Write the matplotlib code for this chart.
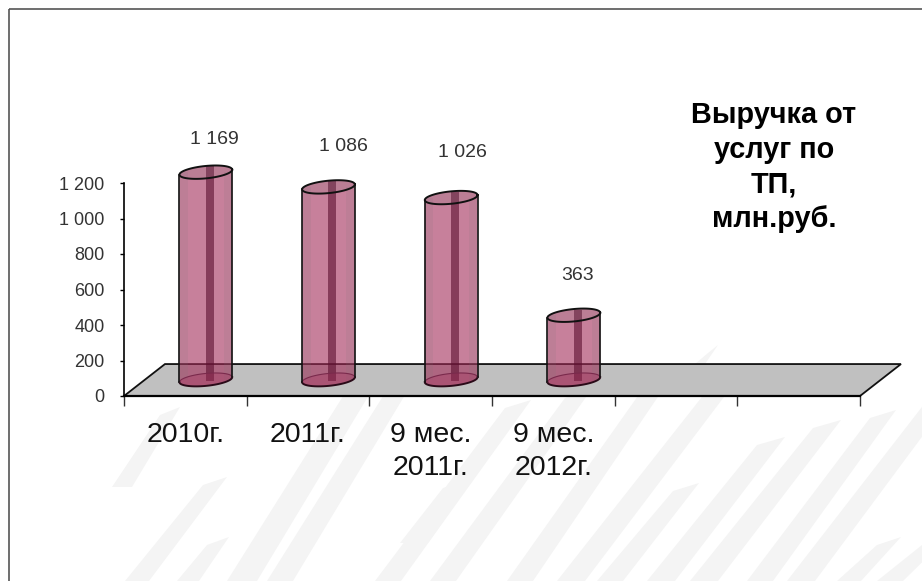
import numpy as np
import matplotlib
matplotlib.use('Agg')
import matplotlib.pyplot as plt
from matplotlib.patches import Polygon, Rectangle

# данные с графика
categories = ['2010г.', '2011г.', '9 мес.\n2011г.', '9 мес.\n2012г.', '', '']
values = [1169, 1086, 1026, 363]
value_labels = ['1 169', '1 086', '1 026', '363']
y_ticks = [0, 200, 400, 600, 800, 1000, 1200]
y_tick_labels = ['0', '200', '400', '600', '800', '1 000', '1 200']
title = 'Выручка от\nуслуг по\nТП,\nмлн.руб.'

# сдвиг подписей значений относительно верха цилиндра, в пикселях
label_dx = [9, 15, 11, 4]
label_dy = [33, 40, 45, 40]

W, H = 922, 581
plt.rcParams['font.family'] = ['Liberation Sans', 'DejaVu Sans']

fig = plt.figure(figsize=(W / 100, H / 100), dpi=100)

# фон: рамка и бледные косые полосы (x верх, y верх, x низ, y низ, ширина)
bg = fig.add_axes([0, 0, 1, 1], zorder=0)
bg.set_xlim(0, W)
bg.set_ylim(H, 0)
bg.axis('off')
stripes = [(160, 407, 112, 487, 20), (203, 477, 125, 581, 24), (207, 537, 177, 581, 22),
           (345, 385, 227, 581, 30), (385, 385, 267, 581, 26), (443, 480, 400, 543, 28),
           (505, 400, 375, 581, 26), (565, 390, 430, 581, 26), (640, 385, 507, 581, 26),
           (705, 385, 557, 581, 28), (673, 483, 597, 581, 26), (757, 437, 647, 581, 28),
           (813, 420, 690, 581, 28), (870, 410, 747, 581, 26), (925, 395, 787, 581, 28),
           (877, 537, 837, 581, 24), (922, 537, 877, 581, 26), (708, 345, 695, 364, 10)]
for x_top, y_top, x_bot, y_bot, w in stripes:
    bg.add_patch(Polygon([(x_bot, y_bot), (x_bot + w, y_bot), (x_top + w, y_top), (x_top, y_top + 8)],
                         color='#f4f4f4', lw=0))
bg.add_patch(Rectangle((8.5, 8.5), 930, 600, fill=False, ec='#555555', lw=1.2))

# оси в пикселях исходной картинки
left, right, top, bottom = 124, 860, 183, 396
ax = fig.add_axes([left / W, 1 - bottom / H, (right - left) / W, (bottom - top) / H], zorder=1)
ax.patch.set_alpha(0)
ax.set_xlim(0, 6)
ax.set_ylim(0, 1200)

for s in ['top', 'right']:
    ax.spines[s].set_visible(False)
ax.spines['left'].set_linewidth(1.2)
ax.spines['bottom'].set_linewidth(1.6)

ax.set_yticks(y_ticks)
ax.set_yticklabels(y_tick_labels, fontsize=13, color='#333333')
ax.tick_params(axis='y', length=3, width=1, pad=11)
ax.set_xticks(range(7))
ax.set_xticklabels([])
ax.tick_params(axis='x', length=7, width=1, color='#333333')
ax.set_xticks(np.arange(6) + 0.5, minor=True)
ax.set_xticklabels(categories, minor=True, fontsize=20.5, color='#111111', linespacing=1.35)
ax.tick_params(axis='x', which='minor', length=0, pad=19)

# пол диаграммы
depth_x, depth_y = 0.334, 180
ax.add_patch(Polygon([(0, 0), (6, 0), (6 + depth_x, depth_y), (depth_x, depth_y)], closed=True,
                     fc='#c0c0c0', ec='#111111', lw=1.3, clip_on=False, zorder=1))

# цилиндры
half_w = 0.215
half_h = 35
tilt = 14
base = 92
px_x = 6 / (right - left)
px_y = 1200 / (bottom - top)
t = np.linspace(0, 2 * np.pi, 101)


def ellipse(cx, cy):
    return cx + half_w * np.cos(t), cy + half_h * np.sin(t) + tilt * np.cos(t)


for i, v in enumerate(values):
    cx = i + 0.5 + depth_x / 2
    cy = base + v
    bx, by = ellipse(cx, base)
    tx, ty = ellipse(cx, cy)
    # тело цилиндра: передняя дуга снизу, задняя дуга сверху
    xs = np.r_[bx[50:], tx[:51]]
    ys = np.r_[by[50:], ty[:51]]
    ax.fill(xs, ys, color='#a32b58', alpha=0.6, lw=0, zorder=3, clip_on=False)
    # сероватые края
    for x0 in [cx - half_w, cx + half_w - 0.07]:
        ax.fill([x0, x0 + 0.07, x0 + 0.07, x0], [base, base, cy, cy], color='#777777', alpha=0.12,
                lw=0, zorder=3, clip_on=False)
    # тёмная полоса по центру
    ax.fill([cx, cx + 0.065, cx + 0.065, cx], [base - 5, base - 5, cy + 32, cy + 32], color='#5c0f2f',
            alpha=0.6, lw=0, zorder=3, clip_on=False)
    ax.fill(bx, by, color='#a32b58', alpha=0.3, lw=0, zorder=3, clip_on=False)
    ax.fill(tx, ty, color='#777777', alpha=0.15, lw=0, zorder=3, clip_on=False)
    # контуры
    ax.plot(bx[50:], by[50:], color='#2a0a18', lw=1.4, zorder=4, clip_on=False)
    ax.plot(bx[:51], by[:51], color='#7a2a4c', lw=0.8, zorder=4, clip_on=False)
    ax.plot(tx, ty, color='#111111', lw=1.4, zorder=4, clip_on=False)
    ax.plot([bx[50], tx[50]], [by[50], ty[50]], color='#111111', lw=1.2, zorder=4, clip_on=False)
    ax.plot([bx[0], tx[0]], [by[0], ty[0]], color='#111111', lw=1.2, zorder=4, clip_on=False)
    # подпись значения
    ax.text(cx + label_dx[i] * px_x, cy + label_dy[i] * px_y, value_labels[i], ha='center', va='center',
            fontsize=14, color='#333333', clip_on=False)

fig.text(774 / W, 1 - 167 / H, title, ha='center', va='center', fontsize=20.8, fontweight='bold',
         color='black', linespacing=1.3)

fig.savefig('out.png', dpi=100)
